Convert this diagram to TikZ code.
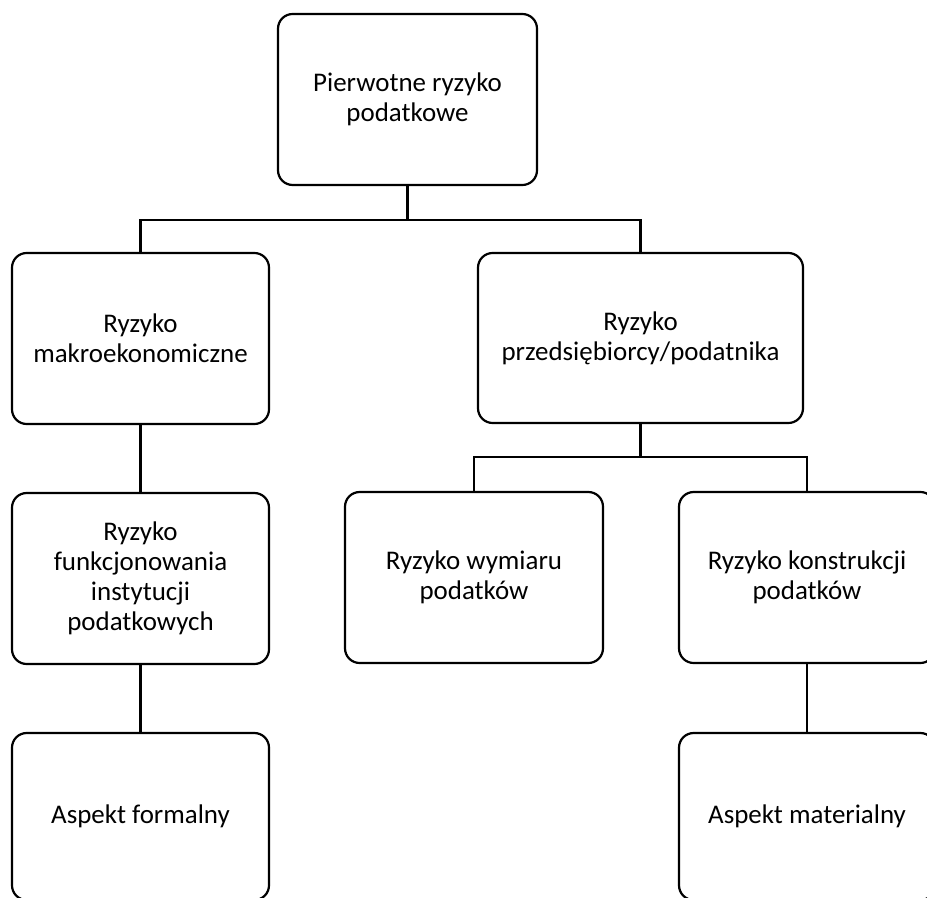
\documentclass[tikz,border=0pt]{standalone}
\usepackage{fontspec}
\setmainfont{Carlito}
\tikzset{
  box/.style={draw, line width=1.65pt, rounded corners=11pt, inner sep=0pt,
    align=center, font=\fontsize{20.2}{22.5}\selectfont},
  link/.style={line width=1.8pt}
}
\begin{document}
\begin{tikzpicture}[x=0.75pt,y=-0.75pt]
\useasboundingbox (0,0) rectangle (927,898);
\node[box, minimum width=259*0.75pt, minimum height=171*0.75pt] (top) at (407.5,99.5) {Pierwotne ryzyko\\podatkowe};
\node[box, minimum width=257*0.75pt, minimum height=171*0.75pt] (mak) at (140.5,338.5) {Ryzyko\\makroekonomiczne};
\node[box, minimum width=325*0.75pt, minimum height=170*0.75pt] (prz) at (640.5,338) {Ryzyko\\przedsiębiorcy/podatnika};
\node[box, minimum width=257*0.75pt, minimum height=171*0.75pt] (fun) at (140.5,578.5) {Ryzyko\\funkcjonowania\\instytucji\\podatkowych};
\node[box, minimum width=258*0.75pt, minimum height=171*0.75pt] (wym) at (474,577.5) {Ryzyko wymiaru\\podatków};
\node[box, minimum width=256*0.75pt, minimum height=171*0.75pt] (kon) at (807,577.5) {Ryzyko konstrukcji\\podatków};
\node[box, minimum width=257*0.75pt, minimum height=167*0.75pt] (for) at (140.5,816.5) {Aspekt formalny};
\node[box, minimum width=256*0.75pt, minimum height=167*0.75pt] (mat) at (807,816.5) {Aspekt materialny};
\coordinate (j1) at (407.5,220);
\coordinate (j2) at (640.5,457);
\draw[link] (top.south) -- (j1) -| (mak.north);
\draw[link] (j1) -| (prz.north);
\draw[link] (prz.south) -- (j2) -| (wym.north);
\draw[link] (j2) -| (kon.north);
\draw[link] (mak.south) -- (fun.north);
\draw[link] (fun.south) -- (for.north);
\draw[link] (kon.south) -- (mat.north);
\end{tikzpicture}
\end{document}
